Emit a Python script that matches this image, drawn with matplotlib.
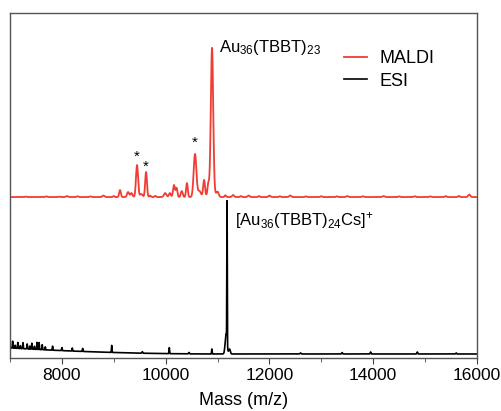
import numpy as np
import matplotlib.pyplot as plt
from matplotlib.ticker import MultipleLocator

plt.rcParams['font.family'] = ['Liberation Sans', 'DejaVu Sans']
plt.rcParams['mathtext.fontset'] = 'custom'
plt.rcParams['mathtext.rm'] = 'Liberation Sans'
plt.rcParams['mathtext.it'] = 'Liberation Sans:italic'

# MALDI peaks: position (m/z), height, width (sigma)
maldi_pos = [10894, 10880, 9448, 9622, 10566, 10740, 10160, 10210, 10410, 9120,
             9275, 9340, 9990, 10310, 10820, 11000, 11300, 11600, 12400, 13500,
             15850, 8800, 8100, 12000, 14200, 10080, 10650, 9530]
maldi_h = [135, 15, 32, 25, 43, 17, 12, 9, 14, 7,
           5, 4, 4, 6, 8, 5, 2, 1.5, 1.5, 1,
           2.5, 1.5, 1, 1.5, 1, 4, 6, 3]
maldi_w = [22, 45, 20, 17, 26, 18, 18, 16, 16, 16,
           20, 20, 24, 18, 14, 22, 20, 20, 20, 20,
           20, 20, 20, 20, 20, 18, 30, 25]

# small ripples along the MALDI baseline
ripple_pos = [7300, 7700, 7950, 8300, 8550, 9000, 9700, 9800, 11150, 11450,
              11800, 12200, 12700, 13000, 13300, 13800, 14500, 14800, 15100, 15400, 15650]
ripple_h = [0.5, 0.7, 0.5, 0.8, 0.7, 1.0, 1.5, 1.2, 1.8, 1.0,
            1.0, 0.8, 0.7, 0.8, 0.7, 0.8, 0.7, 0.8, 0.7, 1.0, 1.2]

# ESI peaks
esi_pos = [11183, 11165, 11230, 10070, 8960, 10890, 7050, 7150, 7250, 7330,
           7420, 7520, 7560, 7620, 7820, 8000, 8200, 8400, 9550, 10450,
           12600, 13400, 13950, 14850, 15600, 7100, 7200, 7380, 7470, 7680]
esi_h = [145, 20, 5, 6, 7, 5, 7, 6, 6, 5,
         6, 7, 7, 5, 4, 3, 3, 3, 1.5, 1.5,
         1, 1.5, 2, 2, 1, 3, 3, 3, 3, 3]
esi_w = [4, 18, 15, 5, 5, 5, 5, 5, 5, 5,
         5, 5, 5, 5, 5, 5, 5, 5, 8, 8,
         10, 8, 8, 8, 8, 4, 4, 4, 4, 4]
esi_hump = 6          # baseline hump at 7000, fading by 11000
maldi_offset = 157

mz = np.arange(7000, 16001, 2.0)


def spectrum(pos, h, w):
    y = np.zeros_like(mz)
    for p, a, s in zip(pos, h, w):
        y += a * np.exp(-0.5 * ((mz - p) / s) ** 2)
    return y


maldi = spectrum(maldi_pos, maldi_h, maldi_w) + spectrum(ripple_pos, ripple_h, [15] * len(ripple_pos))
esi = spectrum(esi_pos, esi_h, esi_w) + esi_hump * np.clip((11000 - mz) / 4000, 0, 1) ** 2

fig = plt.figure(figsize=(5.01, 4.11), dpi=100)
ax = fig.add_axes([0.02, 0.129, 0.932, 0.839])

ax.plot(mz, maldi + maldi_offset, color='#f03c32', lw=1.3, label='MALDI')
ax.plot(mz, esi, color='black', lw=1.2, label='ESI')

ax.set_xlim(7000, 16000)
ax.set_ylim(-4, 341)
ax.set_yticks([])
ax.xaxis.set_major_locator(MultipleLocator(2000))
ax.xaxis.set_minor_locator(MultipleLocator(1000))
ax.tick_params(axis='x', which='major', direction='out', length=4, labelsize=12.5, color='#444444')
ax.tick_params(axis='x', which='minor', direction='out', length=3, color='#444444')
for s in ax.spines.values():
    s.set_color('#555555')
    s.set_linewidth(1.0)
ax.set_xlabel('Mass (m/z)', fontsize=13, labelpad=6)

ax.text(11029, 302, r'Au$_{36}$(TBBT)$_{23}$', fontsize=12, va='baseline')
ax.text(11337, 129, r'[Au$_{36}$(TBBT)$_{24}$Cs]$^{+}$', fontsize=12, va='baseline')
for sx, sy in [(9448, 197), (9622, 187), (10566, 211)]:
    ax.text(sx, sy, '*', fontsize=11, ha='center', va='center')

ax.legend(loc='upper left', bbox_to_anchor=(0.68, 0.94), frameon=False,
          fontsize=13, handlelength=1.3, handletextpad=0.7, labelspacing=0.3)

fig.savefig('out.png', dpi=100)
